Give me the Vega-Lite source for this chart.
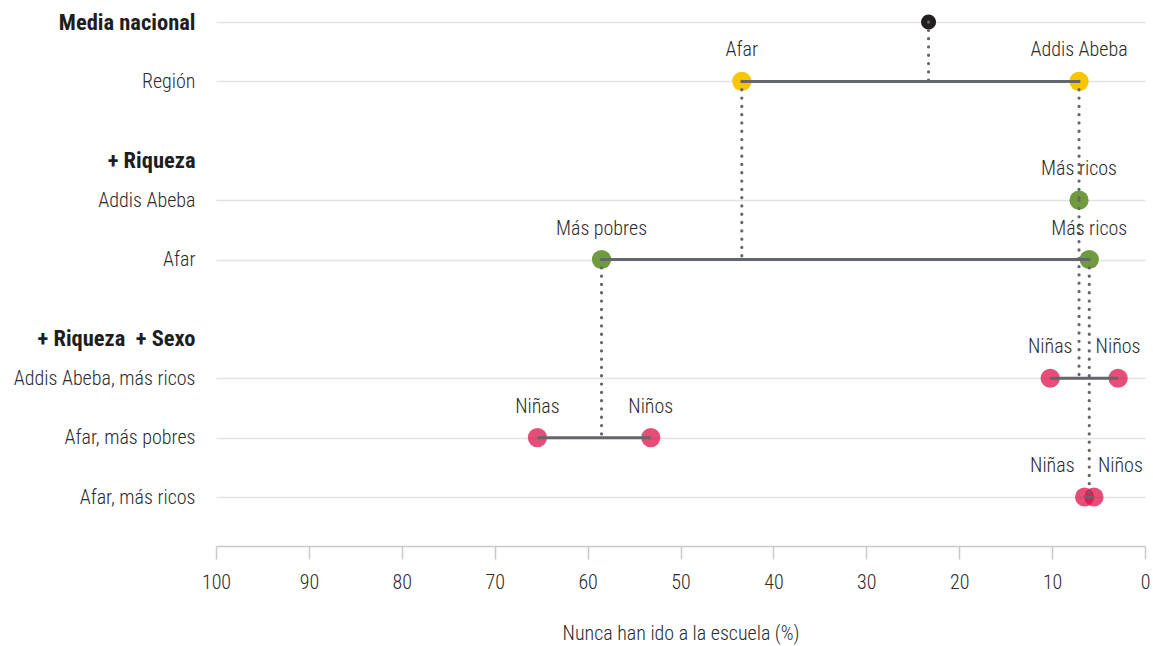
{
  "$schema": "https://vega.github.io/schema/vega-lite/v6.json",
  "width": 929,
  "height": 546,
  "autosize": "none",
  "padding": {"left": 216, "top": 0, "right": 8, "bottom": 100},
  "background": "white",
  "config": {
    "view": {"stroke": null},
    "font": "Roboto Condensed, Liberation Sans Narrow, Roboto, sans-serif",
    "text": {"font": "Roboto Condensed, Liberation Sans Narrow, Roboto, sans-serif"}
  },
  "datasets": {
    "puntos": [
      {"fila": "Media nacional", "etiqueta": "", "valor": 23.3, "nivel": "nacional"},
      {"fila": "Región", "etiqueta": "Afar", "valor": 43.4, "nivel": "region"},
      {"fila": "Región", "etiqueta": "Addis Abeba", "valor": 7.1, "nivel": "region"},
      {"fila": "Addis Abeba", "etiqueta": "Más ricos", "valor": 7.1, "nivel": "riqueza"},
      {"fila": "Afar", "etiqueta": "Más pobres", "valor": 58.5, "nivel": "riqueza"},
      {"fila": "Afar", "etiqueta": "Más ricos", "valor": 6.0, "nivel": "riqueza"},
      {"fila": "Addis Abeba, más ricos", "etiqueta": "Niñas", "valor": 10.2, "nivel": "sexo"},
      {"fila": "Addis Abeba, más ricos", "etiqueta": "Niños", "valor": 2.9, "nivel": "sexo"},
      {"fila": "Afar, más pobres", "etiqueta": "Niñas", "valor": 65.4, "nivel": "sexo"},
      {"fila": "Afar, más pobres", "etiqueta": "Niños", "valor": 53.2, "nivel": "sexo"},
      {"fila": "Afar, más ricos", "etiqueta": "Niñas", "valor": 6.5, "nivel": "sexo"},
      {"fila": "Afar, más ricos", "etiqueta": "Niños", "valor": 5.5, "nivel": "sexo"}
    ],
    "enlaces": [
      {"fila": "Media nacional", "hasta": "Región", "valor": 23.3},
      {"fila": "Región", "hasta": "Afar", "valor": 43.4},
      {"fila": "Región", "hasta": "Addis Abeba", "valor": 7.1},
      {"fila": "Addis Abeba", "hasta": "Addis Abeba, más ricos", "valor": 7.1},
      {"fila": "Afar", "hasta": "Afar, más pobres", "valor": 58.5},
      {"fila": "Afar", "hasta": "Afar, más ricos", "valor": 6.0}
    ]
  },
  "encoding": {
    "y": {
      "field": "fila",
      "type": "nominal",
      "scale": {
        "type": "point",
        "padding": 0,
        "range": [22, 497],
        "domain": ["Media nacional", "_a", "_b", "Región", "_c", "_d", "_e", "+ Riqueza", "_f", "Addis Abeba", "_g", "_h", "Afar", "_i", "_j", "_k", "+ Riqueza\u00a0\u00a0+ Sexo", "_l", "Addis Abeba, más ricos", "_m", "_n", "Afar, más pobres", "_o", "_p", "Afar, más ricos"]
      },
      "axis": {
        "title": null,
        "values": ["Media nacional", "Región", "+ Riqueza", "Addis Abeba", "Afar", "+ Riqueza\u00a0\u00a0+ Sexo", "Addis Abeba, más ricos", "Afar, más pobres", "Afar, más ricos"],
        "domain": false,
        "ticks": false,
        "labelPadding": 21,
        "labelLimit": 400,
        "labelFontSize": {"condition": {"test": "indexof(['Media nacional','+ Riqueza','+ Riqueza\u00a0\u00a0+ Sexo'], datum.value) >= 0", "value": 22.5}, "value": 20},
        "labelColor": {"condition": {"test": "indexof(['Media nacional','+ Riqueza','+ Riqueza\u00a0\u00a0+ Sexo'], datum.value) >= 0", "value": "#1e1e1e"}, "value": "#2a2a2a"},
        "labelFontWeight": {"condition": {"test": "indexof(['Media nacional','+ Riqueza','+ Riqueza\u00a0\u00a0+ Sexo'], datum.value) >= 0", "value": "bold"}, "value": 300},
        "grid": true,
        "gridColor": {"condition": {"test": "indexof(['+ Riqueza','+ Riqueza\u00a0\u00a0+ Sexo'], datum.value) >= 0", "value": "transparent"}, "value": "#e2e2e2"},
        "gridWidth": 1.5
      }
    }
  },
  "layer": [
    {
      "data": {"name": "puntos"},
      "mark": {"type": "circle"},
      "encoding": {
        "x": {
          "field": "valor",
          "type": "quantitative",
          "scale": {"domain": [0, 100], "reverse": true, "nice": false},
          "axis": {
            "title": "Nunca han ido a la escuela (%)",
            "values": [0, 10, 20, 30, 40, 50, 60, 70, 80, 90, 100],
            "grid": false,
            "labelFlush": false,
            "domainColor": "#c8c8c8",
            "domainWidth": 1.5,
            "tickColor": "#c8c8c8",
            "tickWidth": 1.5,
            "tickSize": 13,
            "labelPadding": 13,
            "labelFontSize": 20,
            "labelFontWeight": 300,
            "labelColor": "#2a2a2a",
            "titleFontSize": 20,
            "titleFontWeight": 300,
            "titleColor": "#2a2a2a",
            "titlePadding": 31
          }
        },
        "color": {
          "field": "nivel",
          "type": "nominal",
          "scale": {"domain": ["nacional", "region", "riqueza", "sexo"], "range": ["#231f20", "#f7c600", "#6f9a3d", "#dc0a45"]},
          "legend": null
        },
        "opacity": {"condition": {"test": "datum.nivel === 'sexo'", "value": 0.72}, "value": 1},
        "size": {"condition": {"test": "datum.nivel === 'nacional'", "value": 230}, "value": 370}
      }
    },
    {
      "data": {"name": "puntos"},
      "transform": [
        {"aggregate": [{"op": "min", "field": "valor", "as": "lo"}, {"op": "max", "field": "valor", "as": "hi"}, {"op": "count", "as": "n"}], "groupby": ["fila"]},
        {"filter": "datum.n > 1"}
      ],
      "mark": {"type": "rule", "color": "#63666a", "strokeWidth": 3},
      "encoding": {
        "x": {"field": "lo", "type": "quantitative"},
        "x2": {"field": "hi"}
      }
    },
    {
      "data": {"name": "enlaces"},
      "mark": {"type": "rule", "color": "#63666a", "strokeWidth": 3.2, "strokeCap": "round", "strokeDash": [0.1, 8.2]},
      "encoding": {
        "x": {"field": "valor", "type": "quantitative"},
        "y2": {"field": "hasta"}
      }
    },
    {
      "data": {"name": "puntos"},
      "transform": [{"filter": "datum.etiqueta !== '' && datum.fila !== 'Afar, más ricos'"}],
      "mark": {"type": "text", "fontSize": 20, "fontWeight": 300, "color": "#2a2a2a", "dy": -31, "align": "center", "baseline": "middle"},
      "encoding": {
        "x": {"field": "valor", "type": "quantitative"},
        "text": {"field": "etiqueta"}
      }
    },
    {
      "data": {"name": "puntos"},
      "transform": [{"filter": "datum.fila === 'Afar, más ricos' && datum.etiqueta === 'Niñas'"}],
      "mark": {"type": "text", "fontSize": 20, "fontWeight": 300, "color": "#2a2a2a", "dy": -31, "dx": -10, "align": "right", "baseline": "middle"},
      "encoding": {
        "x": {"field": "valor", "type": "quantitative"},
        "text": {"field": "etiqueta"}
      }
    },
    {
      "data": {"name": "puntos"},
      "transform": [{"filter": "datum.fila === 'Afar, más ricos' && datum.etiqueta === 'Niños'"}],
      "mark": {"type": "text", "fontSize": 20, "fontWeight": 300, "color": "#2a2a2a", "dy": -31, "dx": 4, "align": "left", "baseline": "middle"},
      "encoding": {
        "x": {"field": "valor", "type": "quantitative"},
        "text": {"field": "etiqueta"}
      }
    }
  ]
}
